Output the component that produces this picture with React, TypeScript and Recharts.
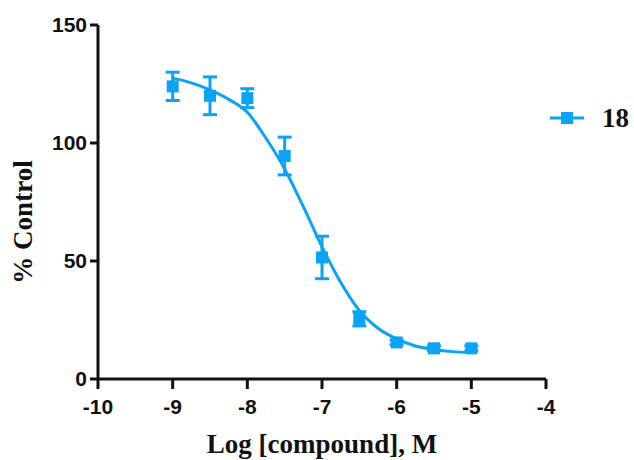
import React from "react";
import {
  ScatterChart,
  Scatter,
  XAxis,
  YAxis,
  ErrorBar,
  Legend,
} from "recharts";

// measured points (mean ± SEM)
const doseLog = [-9, -8.5, -8, -7.5, -7, -6.5, -6, -5.5, -5];
const meanResponse = [124, 120, 119, 94.5, 51.5, 25.5, 15.5, 13, 13];
const semResponse = [6, 8, 4, 8, 9, 3, 1, 1, 1];

// fitted curve
const fitLog = [-9, -8.75, -8.5, -8.25, -8, -7.75, -7.5, -7.25, -7, -6.75, -6.5, -6.25, -6, -5.75, -5.5, -5.25, -5];
const fitResponse = [127.5, 125.5, 122.5, 118.5, 113, 102, 89, 73, 56, 41, 29, 21.5, 17, 14, 12.5, 11.6, 11.2];

const xTicks = [-10, -9, -8, -7, -6, -5, -4];
const yTicks = [0, 50, 100, 150];
const seriesName = "18";

const BLUE = "#0AA3F5";
const INK = "#111";

const points = doseLog.map((x, i) => ({ x, y: meanResponse[i], sem: semResponse[i] }));
const curve = fitLog.map((x, i) => ({ x, y: fitResponse[i] }));

const tickStyle = {
  fill: INK,
  fontSize: 21,
  fontWeight: 700,
  fontFamily: "'Liberation Sans', Arial, sans-serif",
};

const serif = "'Liberation Serif', 'Times New Roman', serif";

function SquareMarker(props: any) {
  const { cx, cy } = props;
  return <rect x={cx - 6} y={cy - 6} width={12} height={12} fill={BLUE} />;
}

function LegendBox() {
  return (
    <div style={{ display: "flex", alignItems: "center" }}>
      <svg width={34} height={14}>
        <line x1={0} y1={7} x2={34} y2={7} stroke={BLUE} strokeWidth={3} />
        <rect x={11} y={1} width={12} height={12} fill={BLUE} />
      </svg>
      <span
        style={{
          marginLeft: 18,
          fontFamily: serif,
          fontWeight: 700,
          fontSize: 27,
          color: INK,
          lineHeight: "30px",
        }}
      >
        {seriesName}
      </span>
    </div>
  );
}

export default function App() {
  return (
    <div style={{ position: "absolute", left: 0, top: 0, background: "#fff" }}>
      <ScatterChart
        width={634}
        height={460}
        margin={{ top: 25, right: 88, bottom: 0, left: 0 }}
      >
        <XAxis
          type="number"
          dataKey="x"
          domain={[-10, -4]}
          ticks={xTicks}
          interval={0}
          height={81}
          allowDataOverflow
          axisLine={{ stroke: INK, strokeWidth: 3 }}
          tickLine={{ stroke: INK, strokeWidth: 3 }}
          tickSize={10}
          tickMargin={10}
          tick={tickStyle}
          label={{
            value: "Log [compound], M",
            position: "insideBottom",
            offset: 7,
            fill: INK,
            fontSize: 27,
            fontWeight: 700,
            fontFamily: serif,
          }}
        />
        <YAxis
          type="number"
          dataKey="y"
          domain={[0, 150]}
          ticks={yTicks}
          interval={0}
          width={98}
          allowDataOverflow
          axisLine={{ stroke: INK, strokeWidth: 3 }}
          tickLine={{ stroke: INK, strokeWidth: 3 }}
          tickSize={8}
          tickMargin={3}
          tick={tickStyle}
          label={(p: any) => (
            <text
              x={32}
              y={222}
              transform="rotate(-90 32 222)"
              textAnchor="middle"
              fill={INK}
              fontSize={27}
              fontWeight={700}
              fontFamily={serif}
            >
              % Control
            </text>
          )}
        />
        <Legend
          layout="horizontal"
          verticalAlign="middle"
          align="center"
          wrapperStyle={{ left: 550, top: 103, width: 90, height: 30 }}
          content={() => <LegendBox />}
        />
        <Scatter
          name="fit"
          data={curve}
          line={{ stroke: BLUE, strokeWidth: 3 }}
          lineJointType="monotoneX"
          shape={() => <g />}
          legendType="none"
          isAnimationActive={false}
        />
        <Scatter
          name={seriesName}
          data={points}
          fill={BLUE}
          shape={SquareMarker}
          isAnimationActive={false}
        >
          <ErrorBar dataKey="sem" direction="y" width={7} stroke={BLUE} strokeWidth={3} />
        </Scatter>
      </ScatterChart>
    </div>
  );
}
